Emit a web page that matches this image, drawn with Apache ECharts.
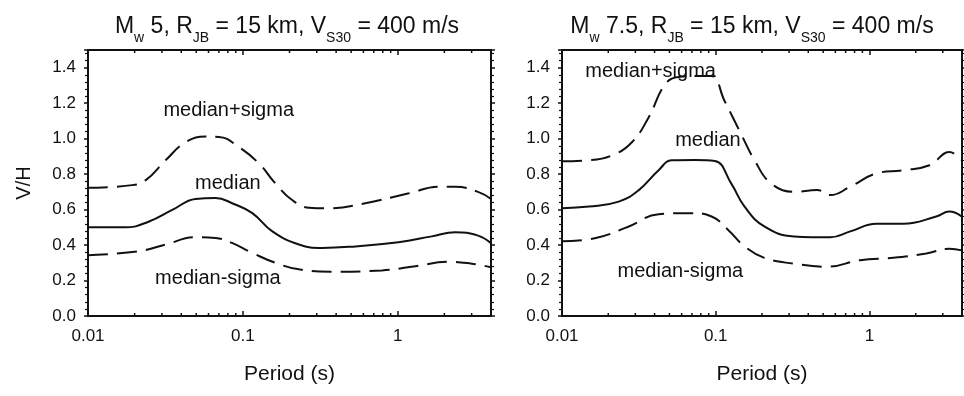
<!DOCTYPE html>
<html>
<head>
<meta charset="utf-8">
<script src="https://cdn.jsdelivr.net/npm/echarts@6/dist/echarts.min.js"></script>
<style>html,body{margin:0;padding:0;background:#fff}#c{width:964px;height:396px}</style>
</head>
<body>
<div id="c"></div>
<script>
// ---- data (periods in s, V/H ratio) ----
const leftMedianT = [0.01, 0.0175, 0.0248, 0.035, 0.0495, 0.0667, 0.0853, 0.115, 0.155, 0.23, 0.325, 0.483, 1.01, 1.66, 2.35, 3.3, 4.0];
const leftMedianV = [0.50, 0.50, 0.533, 0.598, 0.66, 0.665, 0.636, 0.58, 0.477, 0.403, 0.384, 0.39, 0.416, 0.449, 0.472, 0.453, 0.41];
const leftPlusT = [0.01, 0.0193, 0.0236, 0.0317, 0.0427, 0.0574, 0.07, 0.094, 0.127, 0.162, 0.208, 0.267, 0.359, 0.617, 1.18, 1.84, 2.36, 3.3, 4.0];
const leftPlusV = [0.723, 0.738, 0.766, 0.878, 0.98, 1.012, 1.01, 0.953, 0.86, 0.748, 0.654, 0.611, 0.607, 0.636, 0.692, 0.729, 0.729, 0.70, 0.66];
const leftMinusT = [0.01, 0.0213, 0.0317, 0.0495, 0.0667, 0.085, 0.115, 0.162, 0.23, 0.378, 0.79, 1.3, 2.13, 3.0, 4.0];
const leftMinusV = [0.343, 0.365, 0.403, 0.444, 0.44, 0.412, 0.356, 0.30, 0.263, 0.25, 0.257, 0.281, 0.306, 0.295, 0.275];

const rightMedianT = [0.01, 0.015, 0.0234, 0.0316, 0.0425, 0.0517, 0.073, 0.0986, 0.126, 0.154, 0.207, 0.323, 0.557, 0.75, 1.11, 1.66, 2.72, 3.31, 4.0];
const rightMedianV = [0.608, 0.617, 0.645, 0.71, 0.822, 0.878, 0.88, 0.874, 0.748, 0.617, 0.505, 0.449, 0.444, 0.477, 0.52, 0.52, 0.561, 0.589, 0.56];
const rightPlusT = [0.01, 0.015, 0.0212, 0.0285, 0.0366, 0.0469, 0.0571, 0.0769, 0.0937, 0.114, 0.146, 0.179, 0.229, 0.323, 0.457, 0.557, 0.75, 1.11, 1.66, 2.46, 3.31, 4.0];
const rightPlusV = [0.872, 0.878, 0.906, 0.98, 1.12, 1.307, 1.348, 1.354, 1.354, 1.214, 1.027, 0.878, 0.748, 0.70, 0.71, 0.682, 0.729, 0.804, 0.822, 0.85, 0.925, 0.878];
const rightMinusT = [0.01, 0.0166, 0.0272, 0.0425, 0.0696, 0.094, 0.12, 0.154, 0.207, 0.323, 0.53, 0.87, 1.43, 2.34, 3.31, 4.0];
const rightMinusV = [0.421, 0.44, 0.505, 0.574, 0.58, 0.561, 0.487, 0.393, 0.328, 0.295, 0.278, 0.315, 0.328, 0.352, 0.379, 0.37];

const curveLabels = ['median+sigma', 'median', 'median-sigma'];
const leftLabelAnchorsT = [0.081, 0.08, 0.069];
const leftLabelAnchorsV = [1.158, 0.75, 0.213];
const rightLabelAnchorsT = [0.0377, 0.089, 0.0589];
const rightLabelAnchorsV = [1.38, 0.99, 0.252];

const xMin = 0.01, xMax = 4;
const yMin = 0, yMax = 1.5, yStep = 0.2;
const minorPeriods = [0.02,0.03,0.04,0.05,0.06,0.07,0.08,0.09,0.2,0.3,0.4,0.5,0.6,0.7,0.8,0.9,2,3];
const xAxisTitle = 'Period (s)';
const yAxisTitle = 'V/H';

// ---- build ----
const zip = (a, b) => a.map((t, i) => [t, b[i]]);
const FONT = 'Liberation Sans, Arial, sans-serif';
const INK = '#111';

const grids = [
  {left: 88, top: 50, width: 403, height: 266},
  {left: 562, top: 50, width: 400, height: 266}
];

function xAxes(gi) {
  return [
    {type: 'log', logBase: 10, gridIndex: gi, min: xMin, max: xMax, position: 'bottom',
     name: xAxisTitle, nameLocation: 'middle', nameGap: 48,
     nameTextStyle: {fontFamily: FONT, fontSize: 21, color: INK},
     axisLine: {onZero: false, lineStyle: {color: INK, width: 2}},
     axisTick: {inside: true, length: 5, lineStyle: {color: INK, width: 1.5}},
     minorTick: {show: false}, splitLine: {show: false},
     axisLabel: {fontFamily: FONT, fontSize: 17, color: INK, margin: 12,
       formatter: v => (v >= 1 ? String(Math.round(v)) : String(+v.toPrecision(1))),
       showMaxLabel: false}},
    {type: 'log', logBase: 10, gridIndex: gi, min: xMin, max: xMax, position: 'top',
     axisLine: {onZero: false, lineStyle: {color: INK, width: 2}},
     axisTick: {inside: true, length: 5, lineStyle: {color: INK, width: 1.5}},
     axisLabel: {show: false}, splitLine: {show: false}}
  ];
}
function yAxes(gi, withName) {
  return [
    {type: 'value', gridIndex: gi, min: yMin, max: yMax, interval: yStep, position: 'left',
     name: withName ? yAxisTitle : '', nameLocation: 'middle', nameGap: 54, nameRotate: 90,
     nameTextStyle: {fontFamily: FONT, fontSize: 20, color: INK},
     axisLine: {show: true, onZero: false, lineStyle: {color: INK, width: 2}},
     axisTick: {show: true, inside: false, length: 4, lineStyle: {color: INK, width: 1.5}},
     minorTick: {show: true, splitNumber: 5, length: 3, lineStyle: {color: INK, width: 1.2}},
     splitLine: {show: false},
     axisLabel: {fontFamily: FONT, fontSize: 17, color: INK, margin: 12,
       formatter: v => v.toFixed(1), showMaxLabel: false}},
    {type: 'value', gridIndex: gi, min: yMin, max: yMax, interval: yStep, position: 'right',
     axisLine: {show: true, onZero: false, lineStyle: {color: INK, width: 2}},
     axisTick: {show: true, inside: false, length: 4, lineStyle: {color: INK, width: 1.5}},
     minorTick: {show: true, splitNumber: 5, length: 3, lineStyle: {color: INK, width: 1.2}},
     axisLabel: {show: false}, splitLine: {show: false}}
  ];
}

function curve(data, gi, dashed) {
  return {type: 'line', xAxisIndex: gi * 2, yAxisIndex: gi * 2, data: data,
    showSymbol: false, smooth: 0.45, silent: true,
    lineStyle: {color: INK, width: 2, type: dashed ? [20, 9] : 'solid'}};
}
function labels(ts, vs, gi) {
  return {type: 'scatter', xAxisIndex: gi * 2, yAxisIndex: gi * 2, symbolSize: 1, silent: true,
    itemStyle: {opacity: 0},
    data: ts.map((t, i) => ({value: [t, vs[i]], name: curveLabels[i]})),
    label: {show: true, position: 'inside', formatter: p => p.name, opacity: 1,
      fontFamily: FONT, fontSize: 20, color: INK, textBorderWidth: 0}};
}
function minorTicks(gi) {
  return {type: 'custom', xAxisIndex: gi * 2, yAxisIndex: gi * 2, silent: true,
    data: minorPeriods.map(t => [t]),
    renderItem: (params, api) => {
      const b = api.coord([api.value(0), yMin]);
      const t = api.coord([api.value(0), yMax]);
      return {type: 'group', children: [
        {type: 'line', shape: {x1: b[0], y1: b[1], x2: b[0], y2: b[1] - 3}, style: {stroke: INK, lineWidth: 1.5}},
        {type: 'line', shape: {x1: t[0], y1: t[1], x2: t[0], y2: t[1] + 3}, style: {stroke: INK, lineWidth: 1.5}}
      ]};
    }};
}

const sub = {fontSize: 14, fontWeight: 'normal', fontFamily: FONT, color: INK, verticalAlign: 'bottom', padding: [0, 0, -7, 0]};
function titleText(mag) {
  return '{m|M}{s|w}{m| ' + mag + ', R}{s|JB}{m| = 15 km, V}{s|S30}{m| = 400 m/s}';
}
const titleRich = {m: {fontSize: 23, fontWeight: 'normal', fontFamily: FONT, color: INK}, s: sub};

const option = {
  backgroundColor: '#fff',
  animation: false,
  title: [
    {text: titleText('5'), left: 282, top: 10, textAlign: 'center', textStyle: {fontWeight: 'normal', rich: titleRich}},
    {text: titleText('7.5'), left: 747, top: 10, textAlign: 'center', textStyle: {fontWeight: 'normal', rich: titleRich}}
  ],
  grid: grids,
  xAxis: [...xAxes(0), ...xAxes(1)],
  yAxis: [...yAxes(0, true), ...yAxes(1, false)],
  series: [
    curve(zip(leftPlusT, leftPlusV), 0, true),
    curve(zip(leftMedianT, leftMedianV), 0, false),
    curve(zip(leftMinusT, leftMinusV), 0, true),
    curve(zip(rightPlusT, rightPlusV), 1, true),
    curve(zip(rightMedianT, rightMedianV), 1, false),
    curve(zip(rightMinusT, rightMinusV), 1, true),
    labels(leftLabelAnchorsT, leftLabelAnchorsV, 0),
    labels(rightLabelAnchorsT, rightLabelAnchorsV, 1),
    minorTicks(0), minorTicks(1)
  ]
};
const chart = echarts.init(document.getElementById('c'), null, {renderer: 'canvas'});
chart.setOption(option);
</script>
</body>
</html>
